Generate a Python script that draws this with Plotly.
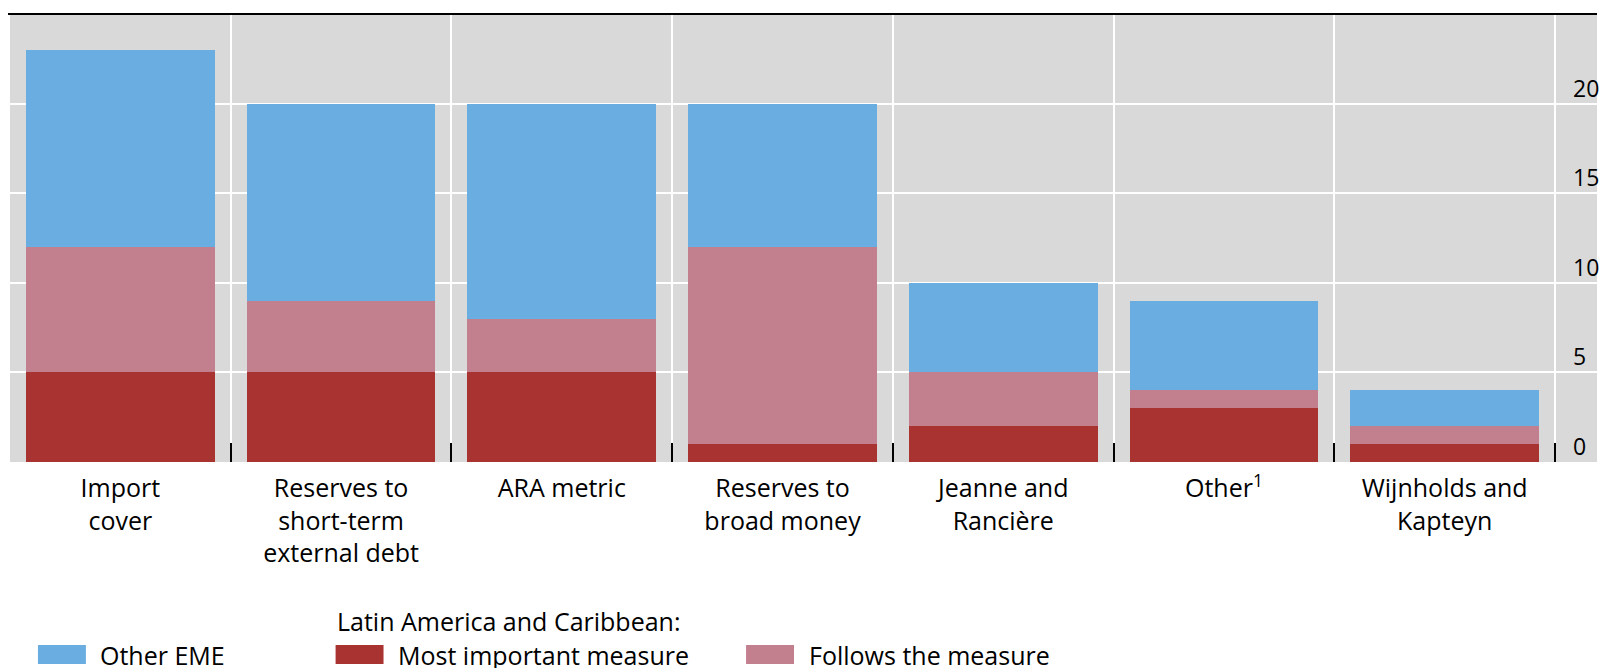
import plotly.graph_objects as go

# Reserve-adequacy measures used by central banks (number of responses)
categories = [
    "Import<br>cover",
    "Reserves to<br>short-term<br>external debt",
    "ARA metric",
    "Reserves to<br>broad money",
    "Jeanne and<br>Rancière",
    "Other<sup>1</sup>",
    "Wijnholds and<br>Kapteyn",
]
most_important = [5, 5, 5, 1, 2, 3, 1]
follows_measure = [7, 4, 3, 11, 3, 1, 1]
other_eme = [11, 11, 12, 8, 5, 5, 2]
y_ticks = [0, 5, 10, 15, 20]

RED = "#A93331"
PINK = "#C27F8E"
BLUE = "#6AADE0"
BG = "#D9D9D9"
FONT = "Open Sans"

W, H = 1599, 668
M_L, M_R, M_T, M_B = 10, 0, 14, 206
plot_w = W - M_L - M_R
plot_h = H - M_T - M_B


def px_x(px):
    return (px - M_L) / plot_w


def px_y(py):
    return (H - M_B - py) / plot_h


fig = go.Figure()
for name, vals, col in [
    ("Most important measure", most_important, RED),
    ("Follows the measure", follows_measure, PINK),
    ("Other EME", other_eme, BLUE),
]:
    fig.add_trace(go.Bar(
        x=categories, y=vals, name=name,
        marker=dict(color=col, line=dict(width=0)),
        width=0.855, showlegend=False,
    ))

fig.update_layout(
    width=W, height=H,
    margin=dict(l=M_L, r=M_R, t=M_T, b=M_B),
    barmode="stack",
    plot_bgcolor=BG, paper_bgcolor="white",
    font=dict(family=FONT, size=25, color="black"),
    xaxis=dict(
        type="category",
        range=[-0.5, 6.5 + 42 / 221],
        showgrid=True, gridcolor="white", gridwidth=2,
        ticks="inside", ticklen=19, tickwidth=2, tickcolor="black",
        tickson="boundaries", showline=False, zeroline=False,
        ticklabelstandoff=9,
        tickfont=dict(size=25),
    ),
    yaxis=dict(
        range=[0, 25], tickvals=y_ticks,
        side="right", anchor="free", position=px_x(1557),
        showgrid=True, gridcolor="white", gridwidth=2,
        zeroline=False, showline=False, ticks="",
        ticklabelstandoff=17, ticklabelshift=-15,
        tickfont=dict(size=23),
    ),
)

# top rule
fig.add_shape(type="line", xref="paper", yref="paper", x0=px_x(8), x1=1, y0=1, y1=1,
              line=dict(color="black", width=2))

# legend drawn as swatches with labels
legend_items = [
    ("Other EME", BLUE, 38, 98),
    ("Most important measure", RED, 336, 396),
    ("Follows the measure", PINK, 747, 808),
]
for label, col, sx, tx in legend_items:
    fig.add_shape(type="rect", xref="paper", yref="paper",
                  x0=px_x(sx), x1=px_x(sx + 48), y0=px_y(664), y1=px_y(645),
                  fillcolor=col, line=dict(width=0))
    fig.add_annotation(text=label, xref="paper", yref="paper", x=px_x(tx), y=px_y(655),
                       xanchor="left", yanchor="middle", showarrow=False,
                       font=dict(size=25, color="black"))
fig.add_annotation(text="Latin America and Caribbean:", xref="paper", yref="paper",
                   x=px_x(335), y=px_y(621), xanchor="left", yanchor="middle",
                   showarrow=False, font=dict(size=25, color="black"))

fig.write_html("out.html")
